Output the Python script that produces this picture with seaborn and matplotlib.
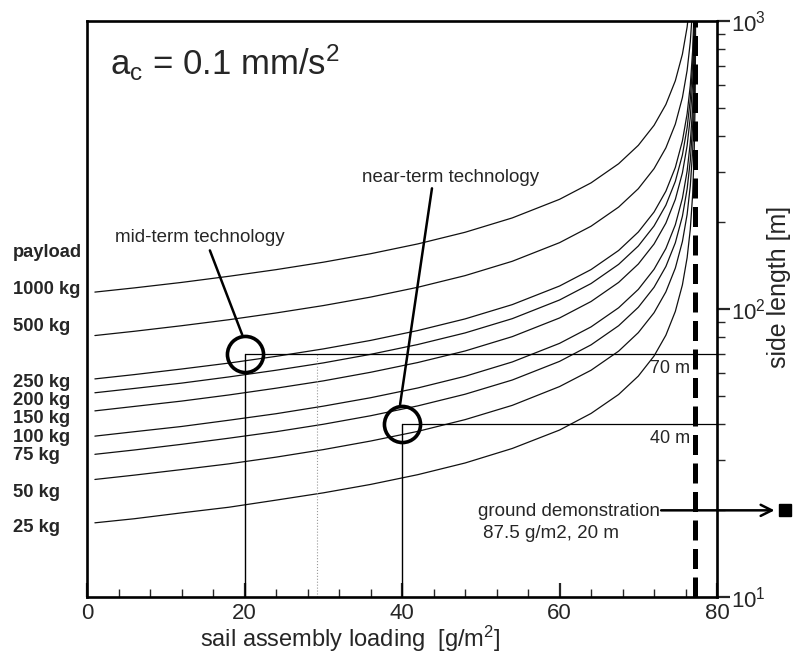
import numpy as np
import pandas as pd
import matplotlib
matplotlib.use("Agg")
import matplotlib.pyplot as plt
import matplotlib.ticker as mticker
import seaborn as sns

sns.set_style("white")
plt.rcParams['font.family'] = ['Liberation Sans', 'DejaVu Sans']
plt.rcParams['mathtext.default'] = 'regular'

# sail assembly loading [g/m^2] at which the curves were read
loading = [1, 6, 12, 18, 24, 30, 36, 42, 48, 54, 60, 64, 67.5, 70, 72, 73.5,
           74.7, 75.6, 76.2, 76.6, 76.9, 77.1, 77.2, 77.26, 77.29]

# side length [m] for each payload
side_25 = [18.1, 18.7, 19.6, 20.5, 21.7, 23.0, 24.6, 26.6, 29.2, 32.8, 38.0, 43.4, 50.5,
           58.5, 68.7, 81.1, 98.1, 121.3, 150.8, 189.0, 250.0, 353.6, 500.0, 790.6, 1581]
side_50 = [25.6, 26.5, 27.7, 29.0, 30.6, 32.5, 34.8, 37.6, 41.3, 46.3, 53.8, 61.3, 71.4,
           82.8, 97.1, 114.7, 138.7, 171.5, 213.2, 267.3, 353.6, 500.0, 707.1, 1118, 2236]
side_75 = [31.3, 32.4, 33.9, 35.6, 37.5, 39.8, 42.6, 46.1, 50.6, 56.7, 65.8, 75.1, 87.5,
           101.4, 119.0, 140.5, 169.8, 210.0, 261.1, 327.3, 433.0, 612.4, 866.0, 1369, 2739]
side_100 = [36.2, 37.5, 39.1, 41.1, 43.3, 46.0, 49.2, 53.2, 58.4, 65.5, 76.0, 86.7, 101.0,
            117.0, 137.4, 162.2, 196.1, 242.5, 301.5, 378.0, 500.0, 707.1, 1000, 1581, 3162]
side_150 = [44.3, 45.9, 47.9, 50.3, 53.1, 56.3, 60.3, 65.2, 71.5, 80.2, 93.1, 106.2, 123.7,
            143.3, 168.2, 198.7, 240.2, 297.0, 369.3, 462.9, 612.4, 866.0, 1225, 1936, 3873]
side_200 = [51.2, 53.0, 55.3, 58.1, 61.3, 65.0, 69.6, 75.3, 82.6, 92.6, 107.5, 122.6, 142.9,
            165.5, 194.3, 229.4, 277.4, 343.0, 426.4, 534.5, 707.1, 1000, 1414, 2236, 4472]
side_250 = [57.2, 59.2, 61.9, 64.9, 68.5, 72.7, 77.8, 84.2, 92.4, 103.6, 120.2, 137.1, 159.7,
            185.1, 217.2, 256.5, 310.1, 383.5, 476.7, 597.6, 790.6, 1118, 1581, 2500, 5000]
side_500 = [80.9, 83.7, 87.5, 91.8, 96.9, 102.8, 110.0, 119.0, 130.6, 146.5, 170.0, 193.9, 225.9,
            261.7, 307.2, 362.7, 438.5, 542.3, 674.2, 845.2, 1118, 1581, 2236, 3536, 7071]
side_1000 = [114.5, 118.4, 123.7, 129.9, 137.0, 145.4, 155.6, 168.3, 184.7, 207.2, 240.4, 274.2,
             319.5, 370.1, 434.4, 513.0, 620.2, 767.0, 953.5, 1195, 1581, 2236, 3162, 5000, 10000]

payloads = [25, 50, 75, 100, 150, 200, 250, 500, 1000]
sides = [side_25, side_50, side_75, side_100, side_150, side_200, side_250, side_500, side_1000]

payload_labels = ["payload", "1000 kg", "500 kg", "250 kg", "200 kg", "150 kg",
                  "100 kg", "75 kg", "50 kg", "25 kg"]
label_pos = [157, 117, 86.9, 55.5, 48.1, 41.6, 35.7, 30.9, 23.0, 17.5]

critical_loading = 77.2
mid_term = (20, 70)
near_term = (40, 40)
ground_demo = (88.6, 20)

rows = []
for m, s in zip(payloads, sides):
    for x, y in zip(loading, s):
        rows.append({"loading": x, "side": y, "payload": m})
df = pd.DataFrame(rows)

fig = plt.figure(figsize=(7.94, 6.55), dpi=100)
ax = fig.add_axes([0.1096, 0.0885, 0.7935, 0.8794])

sns.lineplot(data=df, x="loading", y="side", hue="payload", units="payload",
             estimator=None, palette={m: "#111111" for m in payloads},
             legend=False, lw=0.9, ax=ax)

ax.set_yscale("log")
ax.set_xlim(0, 80)
ax.set_ylim(10, 1000)

# design points
for (px, py) in [mid_term, near_term]:
    ax.plot([px, 80], [py, py], color="k", lw=0.9)
    ax.plot([px, px], [10, py], color="k", lw=1.0)
    ax.plot([px], [py], "o", ms=26, mfc="none", mec="k", mew=2.6)
ax.plot([29.2, 29.2], [10, 70], color="#999999", lw=0.8, ls=":")

ax.axvline(critical_loading, color="k", lw=3.6, dashes=(4, 1.7))

ax.text(76.6, 62, "70 m", ha="right", va="center", fontsize=13)
ax.text(76.6, 35.5, "40 m", ha="right", va="center", fontsize=13)

# annotations
ax.text(46.2, 286.7, "near-term technology", ha="center", va="center", fontsize=13.5)
ax.plot([43.8, 39.75], [262.5, 46.6], color="k", lw=1.8)
ax.text(14.3, 177.3, "mid-term technology", ha="center", va="center", fontsize=13.5)
ax.plot([15.6, 19.7], [159.8, 81.5], color="k", lw=1.8)

ax.text(2.9, 649, r"a$_{c}$ = 0.1 mm/s$^{2}$", ha="left", va="baseline", fontsize=25)

ax.text(72.8, 19.76, "ground demonstration", ha="right", va="center", fontsize=13.5)
ax.text(50.3, 16.56, "87.5 g/m2, 20 m", ha="left", va="center", fontsize=13.5)
ax.annotate("", xy=(87.3, 20), xytext=(72.9, 20), annotation_clip=False,
            arrowprops=dict(arrowstyle="->", lw=1.8, color="k", mutation_scale=20,
                            shrinkA=0, shrinkB=0))
ax.plot([ground_demo[0]], [ground_demo[1]], "s", ms=8, color="k", clip_on=False)

for lab, yv in zip(payload_labels, label_pos):
    ax.text(-9.4, yv, lab, ha="left", va="center", fontsize=13.2, fontweight="bold")

# axes styling
for sp in ax.spines.values():
    sp.set_linewidth(1.9)
    sp.set_color("k")
ax.xaxis.tick_bottom()
ax.yaxis.tick_right()
ax.set_xticks([0, 20, 40, 60, 80])
ax.xaxis.set_minor_locator(mticker.MultipleLocator(4))
ax.yaxis.set_major_locator(mticker.LogLocator(base=10))
ax.yaxis.set_minor_locator(mticker.LogLocator(base=10, subs=np.arange(2, 10)))
ax.yaxis.set_major_formatter(mticker.LogFormatterMathtext())
ax.yaxis.set_minor_formatter(mticker.NullFormatter())
ax.tick_params(axis="x", which="major", direction="in", length=10, width=1.6,
               labelsize=16, pad=4)
ax.tick_params(axis="x", which="minor", direction="in", length=6, width=1.0)
ax.tick_params(axis="y", which="major", direction="out", length=9, width=1.6,
               labelsize=16, pad=1)
ax.tick_params(axis="y", which="minor", direction="out", length=6, width=1.0)
ax.set_xlabel("")
ax.set_ylabel("")

fig.text(350 / 794, 1 - 639 / 655, "sail assembly loading  [g/m$^{2}$]",
         ha="center", va="center", fontsize=17)
fig.text(779 / 794, 1 - 287 / 655, "side length [m]", ha="center", va="center",
         rotation=90, fontsize=18)

fig.savefig("out.png", dpi=100)
